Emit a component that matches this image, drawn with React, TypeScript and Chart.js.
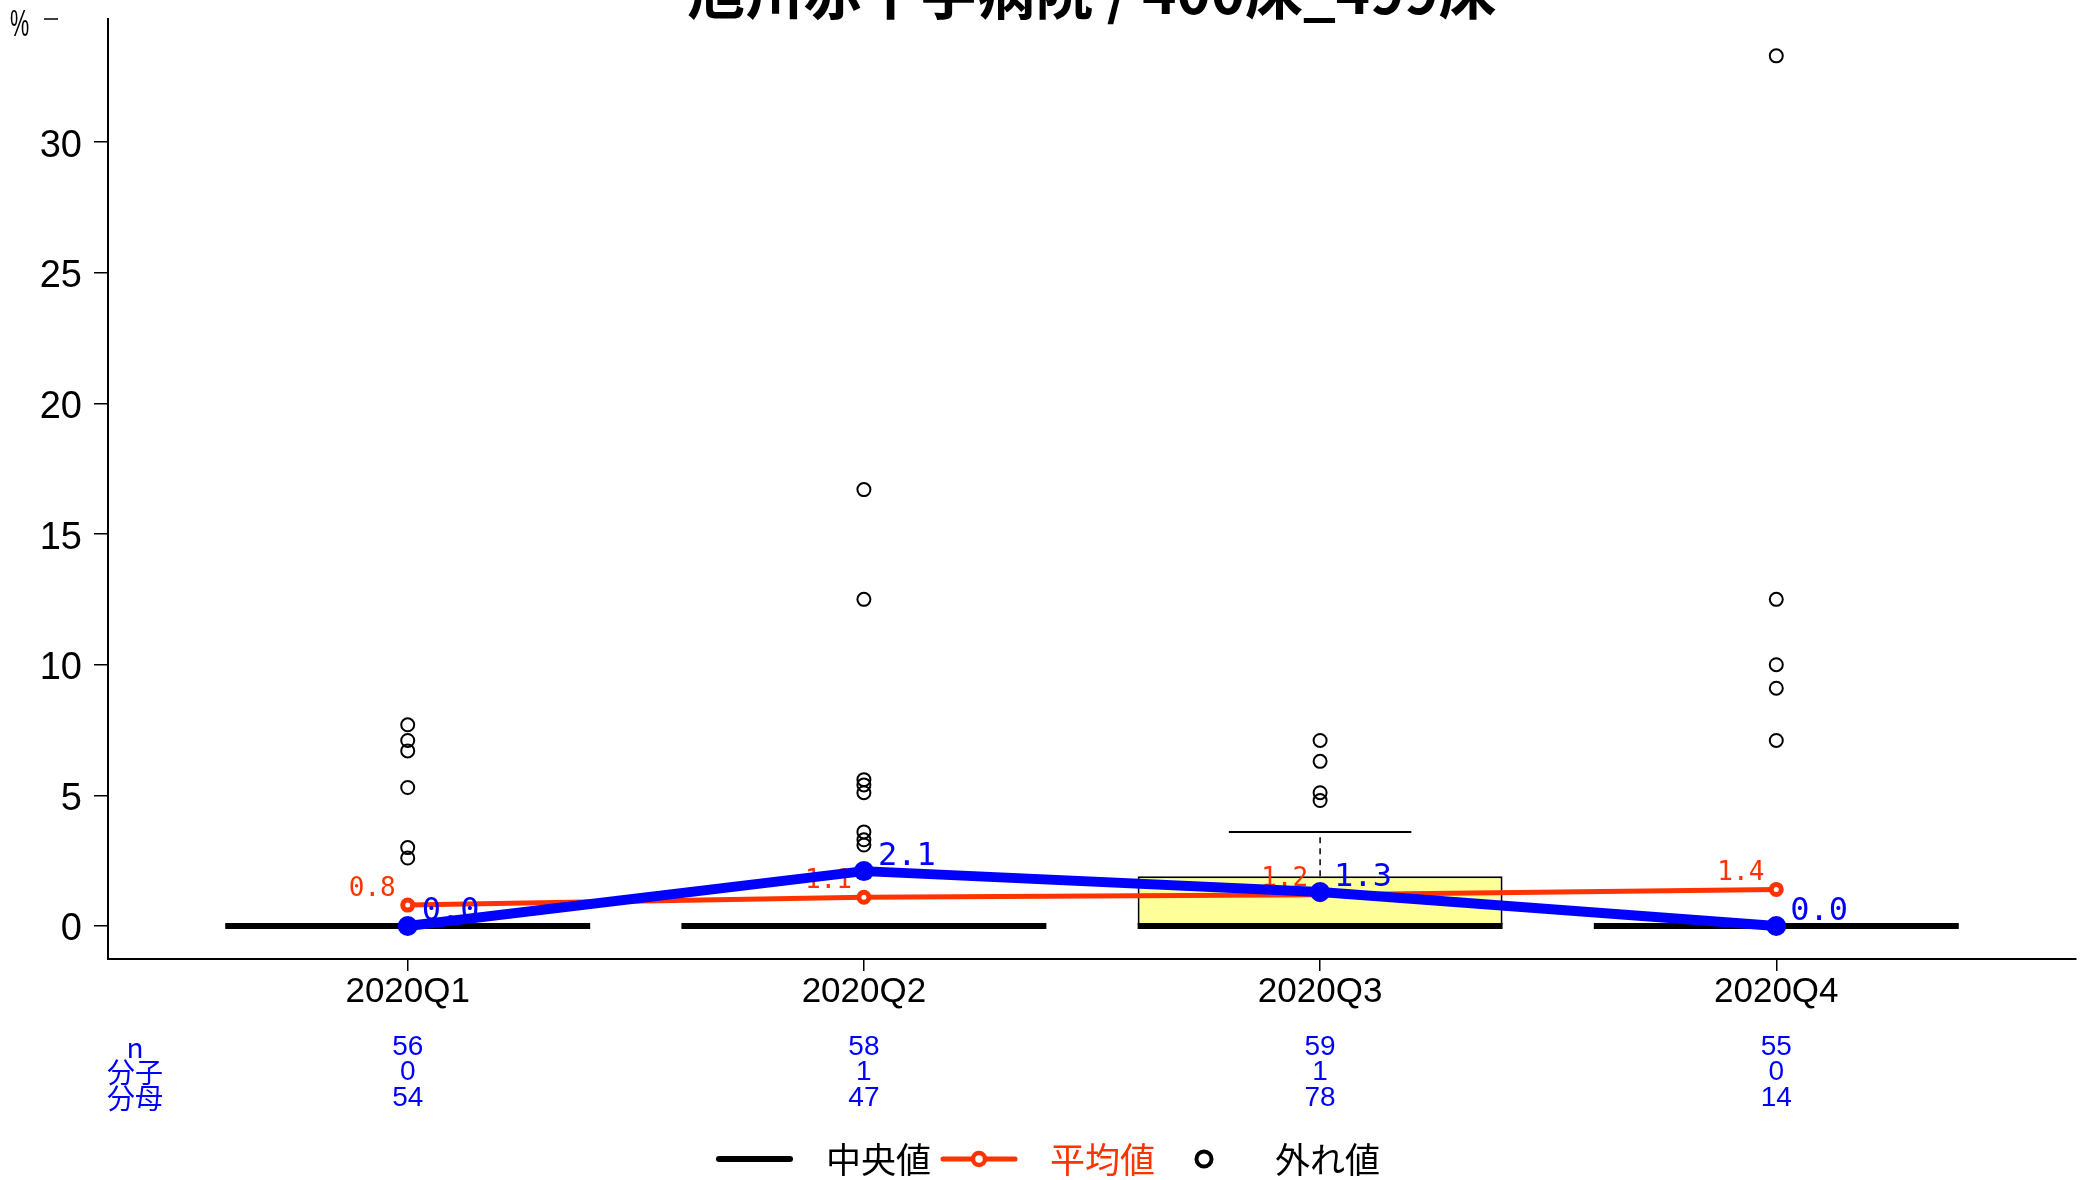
import React, { useEffect, useRef } from 'react';
import { Chart, registerables } from 'chart.js';

Chart.register(...registerables);

// ---------- data ----------
const chartTitle = '旭川赤十字病院 / 400床_499床';
const yUnitLabel = '%';
const categories = ['2020Q1', '2020Q2', '2020Q3', '2020Q4'];
const yTickValues = [0, 5, 10, 15, 20, 25, 30];

const boxLower = [0, 0, 0, 0];
const boxMedian = [0, 0, 0, 0];
const boxUpper = [0, 0, 1.9, 0];
const whiskerLow = [0, 0, 0, 0];
const whiskerHigh = [0, 0, 3.6, 0];
const outliersQ1 = [7.7, 7.1, 6.7, 5.3, 3.0, 2.6];
const outliersQ2 = [16.7, 12.5, 5.6, 5.4, 5.1, 3.6, 3.3, 3.1];
const outliersQ3 = [7.1, 6.3, 5.1, 4.8];
const outliersQ4 = [33.3, 12.5, 10.0, 9.1, 7.1];
const meanValues = [0.8, 1.1, 1.2, 1.4];
const hospitalValues = [0.0, 2.1, 1.3, 0.0];

const tableRowLabels = ['n', '分子', '分母'];
const nValues = [56, 58, 59, 55];
const numeratorValues = [0, 1, 1, 0];
const denominatorValues = [54, 47, 78, 14];
const legendLabels = ['中央値', '平均値', '外れ値'];

// ---------- styles ----------
const BLUE = '#0000FF';
const RED = '#FF3300';
const BOX_FILL = '#FFFF99';
const SANS = "'Liberation Sans', Arial, sans-serif";
const CJK = "'Noto Sans CJK JP', 'Noto Sans', sans-serif";
const MONO = "'DejaVu Sans Mono', monospace";

const X_MIN = -0.657;
const X_MAX = 3.657;
const Y_MIN = -1.263;
const Y_MAX = 34.71;

export default function App() {
  const ref = useRef<HTMLCanvasElement | null>(null);

  useEffect(() => {
    const canvas = ref.current;
    if (!canvas) return;

    const segments = (vals: number[], half: number) =>
      vals.flatMap((v, i) => [
        { x: i - half, y: v },
        { x: i + half, y: v },
        { x: i, y: null },
      ]);
    const verticals = (lo: number[], hi: number[]) =>
      lo.flatMap((v, i) => [
        { x: i, y: v },
        { x: i, y: hi[i] },
        { x: i, y: null },
      ]);
    const outlierGroups = [outliersQ1, outliersQ2, outliersQ3, outliersQ4];
    const outlierPoints = outlierGroups.flatMap((g, i) => g.map((v) => ({ x: i, y: v })));

    const overlay = {
      id: 'overlay',
      afterDatasetDraw(chart: any, args: any) {
        if (args.index !== 1) return;
        const ctx = chart.ctx;
        const meta = chart.getDatasetMeta(1);
        ctx.save();
        ctx.fillStyle = RED;
        ctx.font = `26px ${MONO}`;
        ctx.textAlign = 'right';
        ctx.textBaseline = 'alphabetic';
        meta.data.forEach((pt: any, i: number) => {
          ctx.fillText(meanValues[i].toFixed(1), pt.x - 12, pt.y - 9);
        });
        ctx.restore();
      },
      afterDatasetsDraw(chart: any) {
        const ctx = chart.ctx;
        const meta = chart.getDatasetMeta(0);
        ctx.save();
        ctx.fillStyle = BLUE;
        ctx.font = `32px ${MONO}`;
        ctx.textAlign = 'left';
        ctx.textBaseline = 'alphabetic';
        meta.data.forEach((pt: any, i: number) => {
          ctx.fillText(hospitalValues[i].toFixed(1), pt.x + 14, pt.y - 6);
        });
        ctx.restore();
      },
      afterDraw(chart: any) {
        const ctx = chart.ctx;
        const area = chart.chartArea;
        const xs = chart.scales.x;
        ctx.save();

        // title (partly above the canvas top, as in the reference)
        ctx.fillStyle = '#000';
        ctx.font = `bold 58px ${CJK}`;
        ctx.textAlign = 'center';
        ctx.textBaseline = 'alphabetic';
        ctx.fillText(chartTitle, (area.left + area.right) / 2, 14);

        // unit label at the top of the y axis (narrow glyph as in the reference)
        ctx.save();
        ctx.translate(10, 26);
        ctx.scale(0.6, 1);
        ctx.font = `36px ${SANS}`;
        ctx.textAlign = 'left';
        ctx.textBaseline = 'middle';
        ctx.fillText(yUnitLabel, 0, 0);
        ctx.restore();
        ctx.strokeStyle = '#000';
        ctx.lineWidth = 1.5;
        ctx.beginPath();
        ctx.moveTo(44, 19);
        ctx.lineTo(58, 19);
        ctx.stroke();

        // table under the x axis
        const rows = [nValues, numeratorValues, denominatorValues];
        const rowY = [1047, 1072, 1098];
        ctx.fillStyle = BLUE;
        ctx.textAlign = 'center';
        ctx.textBaseline = 'middle';
        tableRowLabels.forEach((lab, r) => {
          ctx.font = `28px ${CJK}`;
          ctx.fillText(lab, 135, rowY[r]);
          ctx.font = `28px ${SANS}`;
          rows[r].forEach((v, i) => {
            ctx.fillText(String(v), xs.getPixelForValue(i), rowY[r]);
          });
        });

        // legend
        const ly = 1159;
        ctx.lineCap = 'round';
        ctx.strokeStyle = '#000';
        ctx.lineWidth = 6;
        ctx.beginPath();
        ctx.moveTo(719, ly);
        ctx.lineTo(790, ly);
        ctx.stroke();
        ctx.font = `35px ${CJK}`;
        ctx.textAlign = 'left';
        ctx.textBaseline = 'middle';
        ctx.fillStyle = '#000';
        ctx.fillText(legendLabels[0], 826, ly + 1);

        ctx.strokeStyle = RED;
        ctx.lineWidth = 5;
        ctx.beginPath();
        ctx.moveTo(943, ly);
        ctx.lineTo(1015, ly);
        ctx.stroke();
        ctx.fillStyle = '#fff';
        ctx.lineWidth = 4.5;
        ctx.beginPath();
        ctx.arc(979, ly, 6, 0, Math.PI * 2);
        ctx.fill();
        ctx.stroke();
        ctx.fillStyle = RED;
        ctx.fillText(legendLabels[1], 1050, ly + 1);

        ctx.strokeStyle = '#000';
        ctx.lineWidth = 4;
        ctx.fillStyle = '#fff';
        ctx.beginPath();
        ctx.arc(1204, ly, 7.5, 0, Math.PI * 2);
        ctx.fill();
        ctx.stroke();
        ctx.fillStyle = '#000';
        ctx.fillText(legendLabels[2], 1275, ly + 1);

        ctx.restore();
      },
    };

    const chart = new Chart(canvas, {
      type: 'line',
      data: {
        datasets: [
          {
            label: 'hospital',
            data: hospitalValues.map((v, i) => ({ x: i, y: v })),
            borderColor: BLUE,
            borderWidth: 10,
            borderJoinStyle: 'round',
            pointRadius: 10,
            pointBackgroundColor: BLUE,
            pointBorderColor: BLUE,
            pointBorderWidth: 0,
            tension: 0,
          } as any,
          {
            label: 'mean',
            data: meanValues.map((v, i) => ({ x: i, y: v })),
            borderColor: RED,
            borderWidth: 5,
            pointRadius: 5,
            pointBorderWidth: 5,
            pointBorderColor: RED,
            pointBackgroundColor: '#fff',
            tension: 0,
          } as any,
          {
            type: 'scatter',
            label: 'outliers',
            data: outlierPoints,
            showLine: false,
            pointRadius: 6.5,
            pointBorderWidth: 2,
            pointBorderColor: '#000',
            pointBackgroundColor: 'rgba(0,0,0,0)',
          } as any,
          {
            label: 'median',
            data: segments(boxMedian, 0.4),
            borderColor: '#000',
            borderWidth: 6,
            borderCapStyle: 'butt',
            pointRadius: 0,
            spanGaps: false,
          } as any,
          {
            label: 'caps',
            data: [...segments(whiskerHigh, 0.2), ...segments(whiskerLow, 0.2)],
            borderColor: '#000',
            borderWidth: 2,
            pointRadius: 0,
            spanGaps: false,
          } as any,
          {
            label: 'whiskers',
            data: [...verticals(boxUpper, whiskerHigh), ...verticals(whiskerLow, boxLower)],
            borderColor: '#000',
            borderWidth: 1.5,
            borderDash: [6, 5],
            pointRadius: 0,
            spanGaps: false,
          } as any,
          {
            type: 'bar',
            label: 'box',
            data: boxLower.map((v, i) => ({ x: i, y: [v, boxUpper[i]] })),
            backgroundColor: BOX_FILL,
            borderColor: '#000',
            borderWidth: 2,
            borderSkipped: false,
            categoryPercentage: 1,
            barPercentage: 0.8,
          } as any,
        ],
      },
      options: {
        responsive: false,
        maintainAspectRatio: false,
        animation: false,
        devicePixelRatio: 1,
        layout: { padding: { left: 0, top: 19, right: 8, bottom: 0 } },
        plugins: {
          legend: { display: false },
          tooltip: { enabled: false },
          title: { display: false },
        },
        scales: {
          x: {
            type: 'linear',
            min: X_MIN,
            max: X_MAX,
            offset: false,
            afterBuildTicks: (s: any) => {
              s.ticks = categories.map((_, i) => ({ value: i }));
            },
            afterFit: (s: any) => {
              s.height = 221;
              s.paddingLeft = 0;
              s.paddingRight = 0;
              s.paddingTop = 0;
              s.paddingBottom = 0;
            },
            ticks: {
              autoSkip: false,
              maxRotation: 0,
              padding: 0,
              color: '#000',
              font: { family: SANS, size: 35 },
              callback: (v: any) => categories[Math.round(Number(v))] ?? '',
            },
            grid: {
              display: true,
              offset: false,
              drawOnChartArea: false,
              drawTicks: true,
              tickLength: 12,
              color: '#000',
              lineWidth: 1.5,
            },
            border: { display: true, color: '#000', width: 2 },
          },
          y: {
            type: 'linear',
            min: Y_MIN,
            max: Y_MAX,
            afterBuildTicks: (s: any) => {
              s.ticks = yTickValues.map((v) => ({ value: v }));
            },
            afterFit: (s: any) => {
              s.width = 108;
              s.paddingLeft = 0;
              s.paddingRight = 0;
              s.paddingTop = 0;
              s.paddingBottom = 0;
            },
            ticks: {
              padding: 12,
              labelOffset: 4,
              color: '#000',
              font: { family: SANS, size: 38 },
              callback: (v: any) => String(v),
            },
            grid: {
              display: true,
              offset: false,
              drawOnChartArea: false,
              drawTicks: true,
              tickLength: 14,
              color: '#000',
              lineWidth: 1.5,
            },
            border: { display: true, color: '#000', width: 2 },
          },
        },
      } as any,
      plugins: [overlay as any],
    });

    return () => chart.destroy();
  }, []);

  return (
    <div style={{ position: 'fixed', left: 0, top: 0, width: 2086, height: 1180, background: '#fff' }}>
      <canvas ref={ref} width={2086} height={1180} style={{ display: 'block' }} />
    </div>
  );
}
